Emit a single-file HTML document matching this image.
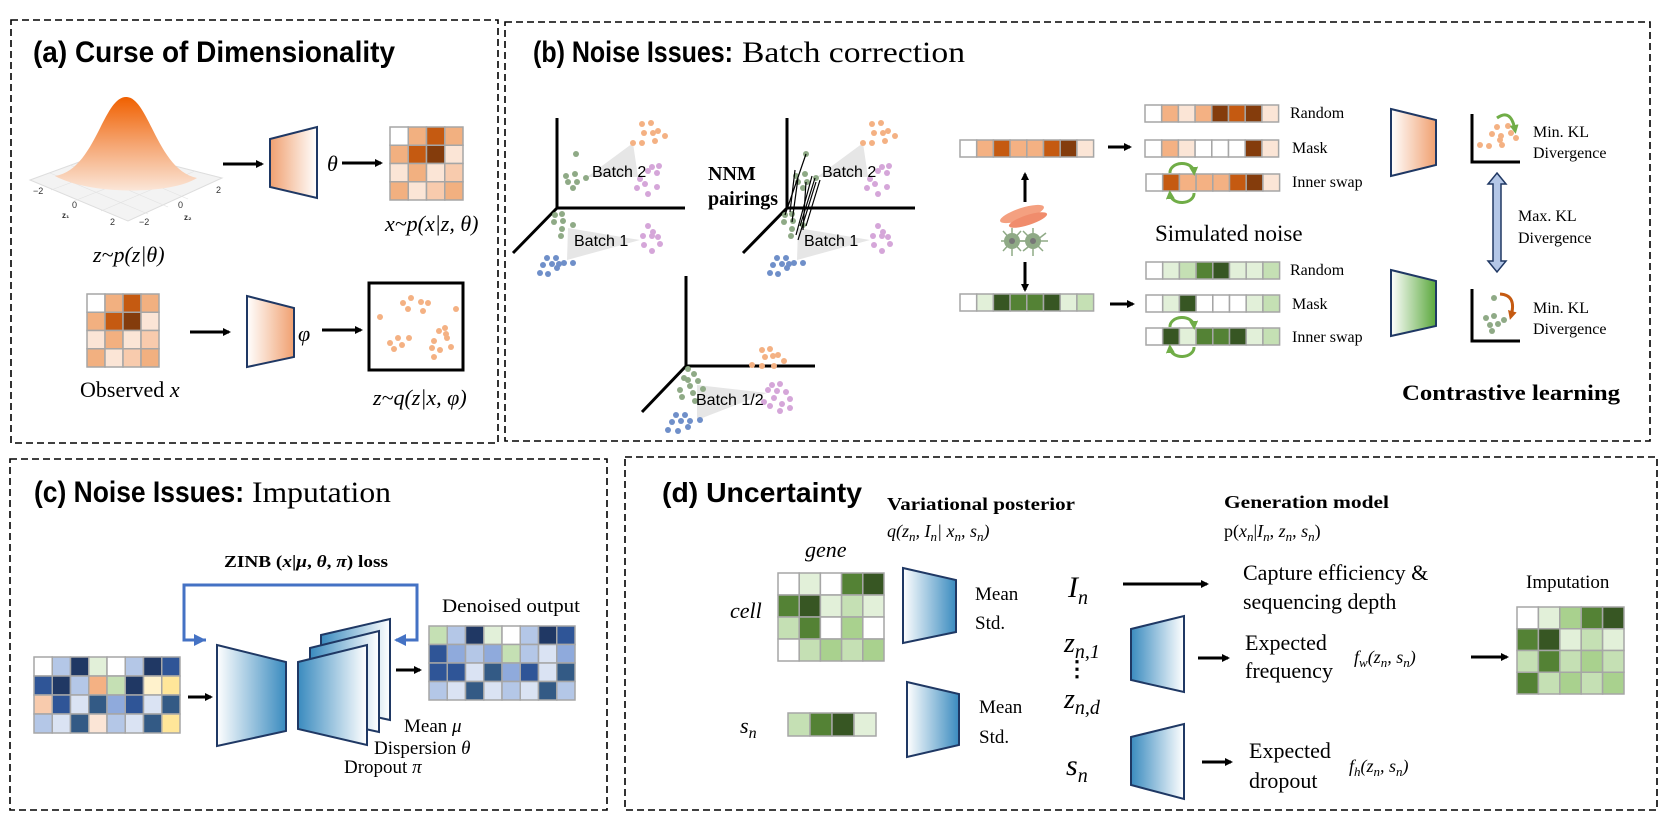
<!DOCTYPE html>
<html><head><meta charset="utf-8"><style>
html,body{margin:0;padding:0;background:#fff;}
svg{display:block;}
.sans{font-family:"Liberation Sans",sans-serif;}
.serif{font-family:"Liberation Serif",serif;}
.it{font-family:"Liberation Serif",serif;font-style:italic;}
.c{stroke:#a6a6a6;stroke-width:1.5;}
.dash{fill:none;stroke:#000;stroke-width:1.6;stroke-dasharray:7 4;}
</style></head><body>
<svg width="1661" height="830" viewBox="0 0 1661 830" xmlns="http://www.w3.org/2000/svg">
<defs>
<linearGradient id="gOr" x1="0" x2="1" y1="0" y2="0"><stop offset="0" stop-color="#f0a070"/><stop offset="1" stop-color="#fff"/></linearGradient>
<linearGradient id="gOrR" x1="0" x2="1" y1="0" y2="0"><stop offset="0" stop-color="#fff"/><stop offset="1" stop-color="#f0a070"/></linearGradient>
<linearGradient id="gGr" x1="0" x2="1" y1="0" y2="0"><stop offset="0" stop-color="#fff"/><stop offset="1" stop-color="#5aa83c"/></linearGradient>
<linearGradient id="gBl" x1="0" x2="1" y1="0" y2="0"><stop offset="0" stop-color="#fff"/><stop offset="1" stop-color="#3a8bbf"/></linearGradient>
<linearGradient id="gBlR" x1="0" x2="1" y1="0" y2="0"><stop offset="0" stop-color="#3a8bbf"/><stop offset="1" stop-color="#fff"/></linearGradient>
<linearGradient id="gBell" x1="0" x2="0" y1="0" y2="1"><stop offset="0" stop-color="#f06000"/><stop offset="0.5" stop-color="#f5a470"/><stop offset="1" stop-color="#fbe6d8"/></linearGradient>
<marker id="ah" markerWidth="8" markerHeight="8" refX="6" refY="4" orient="auto" markerUnits="userSpaceOnUse"><path d="M0,0 L8,4 L0,8 Z" fill="#000"/></marker>
<marker id="ahb" markerWidth="12" markerHeight="12" refX="9" refY="6" orient="auto" markerUnits="userSpaceOnUse"><path d="M0,0 L12,6 L0,12 Z" fill="#4472c4"/></marker>
<marker id="ahg" markerWidth="9" markerHeight="9" refX="5" refY="4.5" orient="auto" markerUnits="userSpaceOnUse"><path d="M0,0 L9,4.5 L0,9 Z" fill="#70ad47"/></marker>
<marker id="aho" markerWidth="9" markerHeight="9" refX="5" refY="4.5" orient="auto" markerUnits="userSpaceOnUse"><path d="M0,0 L9,4.5 L0,9 Z" fill="#c55a11"/></marker>
</defs>

<!-- Borders -->
<rect class="dash" x="11" y="20" width="487" height="423"/>
<rect class="dash" x="505" y="22" width="1145" height="419"/>
<rect class="dash" x="10" y="459" width="597" height="351"/>
<rect class="dash" x="625" y="457" width="1032" height="353"/>

<!-- ===== Panel (a) ===== -->
<text x="33" y="62" class="sans" font-weight="bold" font-size="30" textLength="362" lengthAdjust="spacingAndGlyphs">(a) Curse of Dimensionality</text>
<!-- gaussian -->
<polygon points="30,180 112,150 222,178 128,221" fill="#f3f3f3" stroke="#ddd" stroke-width="1"/>
<g stroke="#e2e2e2" stroke-width="0.6">
<line x1="50" y1="173" x2="148" y2="214"/><line x1="70" y1="165" x2="168" y2="207"/><line x1="91" y1="158" x2="188" y2="199"/><line x1="168" y1="164" x2="74" y2="201"/><line x1="140" y1="157" x2="51" y2="190"/><line x1="195" y1="171" x2="101" y2="211"/>
</g>
<path d="M55,176 C95,170 103,97 126,97 C149,97 157,170 197,178 C170,195 90,195 55,176 Z" fill="url(#gBell)"/>
<g class="sans" font-size="9" fill="#333">
<text x="33" y="194">−2</text><text x="72" y="208">0</text><text x="62" y="218" font-weight="bold" font-size="8">z₁</text><text x="110" y="225">2</text><text x="139" y="225">−2</text><text x="178" y="208">0</text><text x="184" y="220" font-weight="bold" font-size="8">z₂</text><text x="216" y="193">2</text>
</g>
<text x="93" y="262" class="it" font-size="22">z~p(z|θ)</text>
<line x1="223" y1="164" x2="262" y2="164" stroke="#000" stroke-width="3" marker-end="url(#ah)"/>
<polygon points="270,139 317,127 317,198 270,187" fill="url(#gOr)" stroke="#1f3864" stroke-width="2"/>
<text x="327" y="171" class="it" font-size="22">θ</text>
<line x1="342" y1="163" x2="381" y2="163" stroke="#000" stroke-width="3" marker-end="url(#ah)"/>
<g class="c">
<rect x="390" y="127" width="18.25" height="18.25" fill="#fff"/><rect x="408.25" y="127" width="18.25" height="18.25" fill="#f2b080"/><rect x="426.5" y="127" width="18.25" height="18.25" fill="#c55a11"/><rect x="444.75" y="127" width="18.25" height="18.25" fill="#f2b080"/>
<rect x="390" y="145.25" width="18.25" height="18.25" fill="#f2b080"/><rect x="408.25" y="145.25" width="18.25" height="18.25" fill="#c55a11"/><rect x="426.5" y="145.25" width="18.25" height="18.25" fill="#843c0c"/><rect x="444.75" y="145.25" width="18.25" height="18.25" fill="#fbe5d6"/>
<rect x="390" y="163.5" width="18.25" height="18.25" fill="#fbe5d6"/><rect x="408.25" y="163.5" width="18.25" height="18.25" fill="#f2b080"/><rect x="426.5" y="163.5" width="18.25" height="18.25" fill="#fbe5d6"/><rect x="444.75" y="163.5" width="18.25" height="18.25" fill="#f8cbad"/>
<rect x="390" y="181.75" width="18.25" height="18.25" fill="#f2b080"/><rect x="408.25" y="181.75" width="18.25" height="18.25" fill="#fbe5d6"/><rect x="426.5" y="181.75" width="18.25" height="18.25" fill="#f8cbad"/><rect x="444.75" y="181.75" width="18.25" height="18.25" fill="#f2b080"/>
</g>
<text x="385" y="231" class="it" font-size="22">x~p(x|z, θ)</text>

<g class="c">
<rect x="87" y="294" width="18" height="18.25" fill="#fff"/><rect x="105" y="294" width="18" height="18.25" fill="#f2b080"/><rect x="123" y="294" width="18" height="18.25" fill="#c55a11"/><rect x="141" y="294" width="18" height="18.25" fill="#f2b080"/>
<rect x="87" y="312.25" width="18" height="18.25" fill="#f2b080"/><rect x="105" y="312.25" width="18" height="18.25" fill="#c55a11"/><rect x="123" y="312.25" width="18" height="18.25" fill="#843c0c"/><rect x="141" y="312.25" width="18" height="18.25" fill="#fbe5d6"/>
<rect x="87" y="330.5" width="18" height="18.25" fill="#fbe5d6"/><rect x="105" y="330.5" width="18" height="18.25" fill="#f2b080"/><rect x="123" y="330.5" width="18" height="18.25" fill="#fbe5d6"/><rect x="141" y="330.5" width="18" height="18.25" fill="#f8cbad"/>
<rect x="87" y="348.75" width="18" height="18.25" fill="#f2b080"/><rect x="105" y="348.75" width="18" height="18.25" fill="#fbe5d6"/><rect x="123" y="348.75" width="18" height="18.25" fill="#f8cbad"/><rect x="141" y="348.75" width="18" height="18.25" fill="#f2b080"/>
</g>
<line x1="190" y1="332" x2="229" y2="332" stroke="#000" stroke-width="3" marker-end="url(#ah)"/>
<polygon points="247,296 294,308 294,357 247,367" fill="url(#gOrR)" stroke="#1f3864" stroke-width="2"/>
<text x="298" y="341" class="it" font-size="22">φ</text>
<line x1="322" y1="330" x2="361" y2="330" stroke="#000" stroke-width="3" marker-end="url(#ah)"/>
<rect x="369" y="283" width="94" height="87" fill="#fff" stroke="#000" stroke-width="3"/>
<g fill="#f4b183">
<circle cx="403" cy="303" r="3"/><circle cx="411" cy="298" r="3"/><circle cx="408" cy="309" r="3"/><circle cx="421" cy="302" r="3"/><circle cx="428" cy="303" r="3"/><circle cx="423" cy="311" r="3"/><circle cx="380" cy="317" r="3"/><circle cx="456" cy="309" r="3"/><circle cx="445" cy="328" r="3"/><circle cx="439" cy="331" r="3"/><circle cx="446" cy="334" r="3"/><circle cx="447" cy="338" r="3"/><circle cx="434" cy="341" r="3"/><circle cx="451" cy="347" r="3"/><circle cx="432" cy="348" r="3"/><circle cx="440" cy="350" r="3"/><circle cx="434" cy="357" r="3"/><circle cx="390" cy="343" r="3"/><circle cx="398" cy="338" r="3"/><circle cx="409" cy="338" r="3"/><circle cx="394" cy="349" r="3"/><circle cx="402" cy="345" r="3"/>
</g>
<text x="80" y="397" class="serif" font-size="22">Observed <tspan class="it">x</tspan></text>
<text x="373" y="405" class="it" font-size="22">z~q(z|x, φ)</text>

<!-- ===== Panel (b) ===== -->
<text x="533" y="62" class="sans" font-weight="bold" font-size="30" textLength="200" lengthAdjust="spacingAndGlyphs">(b) Noise Issues:</text>
<text x="742" y="62" class="serif" font-size="30" textLength="223" lengthAdjust="spacingAndGlyphs">Batch correction</text>

<!-- plot 1 -->
<g id="p1">
<polygon points="587,177 633,143 638,177" fill="#e6e6e6"/>
<polygon points="568,228 640,240 567,260" fill="#e6e6e6"/>
<g stroke="#000" stroke-width="3"><line x1="557" y1="118" x2="557" y2="208"/><line x1="557" y1="208" x2="685" y2="208"/><line x1="557" y1="208" x2="513" y2="253"/></g>
<g fill="#f4b183"><circle cx="642" cy="124" r="3"/><circle cx="651" cy="123" r="3"/><circle cx="644" cy="133" r="3"/><circle cx="653" cy="133" r="3"/><circle cx="658" cy="131" r="3"/><circle cx="665" cy="136" r="3"/><circle cx="655" cy="141" r="3"/><circle cx="633" cy="143" r="3"/><circle cx="642" cy="143" r="3"/></g>
<g fill="#d5a6d9"><circle cx="652" cy="167" r="3"/><circle cx="659" cy="166" r="3"/><circle cx="648" cy="171" r="3"/><circle cx="657" cy="173" r="3"/><circle cx="640" cy="179" r="3"/><circle cx="637" cy="188" r="3"/><circle cx="645" cy="184" r="3"/><circle cx="657" cy="187" r="3"/><circle cx="648" cy="194" r="3"/>
<circle cx="648" cy="226" r="3"/><circle cx="653" cy="232" r="3"/><circle cx="643" cy="236" r="3"/><circle cx="652" cy="236" r="3"/><circle cx="658" cy="237" r="3"/><circle cx="660" cy="244" r="3"/><circle cx="644" cy="245" r="3"/><circle cx="652" cy="251" r="3"/></g>
<g fill="#8faa86"><circle cx="576" cy="154" r="3"/><circle cx="566" cy="176" r="3"/><circle cx="575" cy="174" r="3"/><circle cx="568" cy="182" r="3"/><circle cx="577" cy="182" r="3"/><circle cx="586" cy="178" r="3"/><circle cx="573" cy="188" r="3"/>
<circle cx="555" cy="215" r="3"/><circle cx="562" cy="214" r="3"/><circle cx="554" cy="222" r="3"/><circle cx="563" cy="221" r="3"/><circle cx="573" cy="225" r="3"/><circle cx="562" cy="229" r="3"/><circle cx="561" cy="236" r="3"/></g>
<g fill="#6f8fc9"><circle cx="547" cy="258" r="3"/><circle cx="556" cy="258" r="3"/><circle cx="543" cy="265" r="3"/><circle cx="552" cy="264" r="3"/><circle cx="559" cy="264" r="3"/><circle cx="564" cy="263" r="3"/><circle cx="573" cy="263" r="3"/><circle cx="540" cy="273" r="3"/><circle cx="548" cy="274" r="3"/><circle cx="557" cy="268" r="3"/></g>
</g>
<text x="592" y="177" class="sans" font-size="16">Batch 2</text>
<text x="574" y="246" class="sans" font-size="16">Batch 1</text>
<!-- plot 2 -->
<use href="#p1" transform="translate(230,0)"/>
<rect x="916" y="200" width="6" height="16" fill="#fff"/>
<text x="822" y="177" class="sans" font-size="16">Batch 2</text>
<text x="804" y="246" class="sans" font-size="16">Batch 1</text>
<g stroke="#000" stroke-width="1.2">
<line x1="785" y1="215" x2="806" y2="154"/><line x1="792" y1="222" x2="798" y2="178"/><line x1="796" y1="235" x2="812" y2="176"/><line x1="800" y1="226" x2="815" y2="178"/><line x1="803" y1="230" x2="806" y2="182"/><line x1="790" y1="212" x2="795" y2="170"/><line x1="798" y1="240" x2="816" y2="182"/><line x1="806" y1="226" x2="820" y2="180"/>
</g>
<text x="708" y="180" class="serif" font-weight="bold" font-size="20">NNM</text>
<text x="708" y="205" class="serif" font-weight="bold" font-size="20">pairings</text>
<!-- plot 3 -->
<polygon points="697,385 767,393 697,420" fill="#e6e6e6"/>
<g stroke="#000" stroke-width="3"><line x1="686" y1="276" x2="686" y2="366"/><line x1="686" y1="366" x2="815" y2="366"/><line x1="686" y1="366" x2="642" y2="412"/></g>
<g fill="#f4b183"><circle cx="762" cy="350" r="3"/><circle cx="770" cy="349" r="3"/><circle cx="765" cy="357" r="3"/><circle cx="773" cy="356" r="3"/><circle cx="778" cy="355" r="3"/><circle cx="784" cy="361" r="3"/><circle cx="774" cy="366" r="3"/><circle cx="752" cy="365" r="3"/><circle cx="762" cy="366" r="3"/></g>
<g fill="#d5a6d9"><circle cx="772" cy="385" r="3"/><circle cx="780" cy="384" r="3"/><circle cx="768" cy="390" r="3"/><circle cx="777" cy="391" r="3"/><circle cx="786" cy="392" r="3"/><circle cx="790" cy="399" r="3"/><circle cx="774" cy="398" r="3"/><circle cx="782" cy="404" r="3"/><circle cx="770" cy="406" r="3"/><circle cx="780" cy="411" r="3"/><circle cx="790" cy="408" r="3"/><circle cx="764" cy="402" r="3"/></g>
<g fill="#8faa86"><circle cx="688" cy="369" r="3"/><circle cx="694" cy="374" r="3"/><circle cx="684" cy="378" r="3"/><circle cx="698" cy="381" r="3"/><circle cx="690" cy="386" r="3"/><circle cx="703" cy="389" r="3"/><circle cx="680" cy="390" r="3"/><circle cx="693" cy="393" r="3"/><circle cx="682" cy="397" r="3"/><circle cx="695" cy="401" r="3"/><circle cx="688" cy="380" r="3"/></g>
<g fill="#6f8fc9"><circle cx="676" cy="415" r="3"/><circle cx="685" cy="415" r="3"/><circle cx="672" cy="422" r="3"/><circle cx="681" cy="421" r="3"/><circle cx="690" cy="421" r="3"/><circle cx="700" cy="420" r="3"/><circle cx="668" cy="430" r="3"/><circle cx="678" cy="431" r="3"/><circle cx="688" cy="427" r="3"/></g>
<text x="696" y="405" class="sans" font-size="16">Batch 1/2</text>

<!-- base bars -->
<g class="c">
<rect x="960" y="140" width="16.7" height="17" fill="#fff"/><rect x="976.7" y="140" width="16.7" height="17" fill="#f4b183"/><rect x="993.4" y="140" width="16.7" height="17" fill="#c55a11"/><rect x="1010.1" y="140" width="16.7" height="17" fill="#f4b183"/><rect x="1026.8" y="140" width="16.7" height="17" fill="#f4b183"/><rect x="1043.5" y="140" width="16.7" height="17" fill="#c55a11"/><rect x="1060.2" y="140" width="16.7" height="17" fill="#843c0c"/><rect x="1076.9" y="140" width="16.7" height="17" fill="#fbe5d6"/>
<rect x="960" y="294" width="16.7" height="17" fill="#fff"/><rect x="976.7" y="294" width="16.7" height="17" fill="#e2f0d9"/><rect x="993.4" y="294" width="16.7" height="17" fill="#375623"/><rect x="1010.1" y="294" width="16.7" height="17" fill="#548235"/><rect x="1026.8" y="294" width="16.7" height="17" fill="#548235"/><rect x="1043.5" y="294" width="16.7" height="17" fill="#375623"/><rect x="1060.2" y="294" width="16.7" height="17" fill="#e2f0d9"/><rect x="1076.9" y="294" width="16.7" height="17" fill="#c5e0b4"/>
</g>
<line x1="1025" y1="202" x2="1025" y2="174" stroke="#000" stroke-width="3" marker-end="url(#ah)"/>
<line x1="1025" y1="262" x2="1025" y2="290" stroke="#000" stroke-width="3" marker-end="url(#ah)"/>
<!-- cells icon -->
<g>
<ellipse cx="1022" cy="214" rx="23" ry="6" fill="#f4a080" transform="rotate(-18 1022 214)"/>
<ellipse cx="1028" cy="220" rx="20" ry="5" fill="#f08c6c" transform="rotate(-18 1028 220)"/>
<g stroke="#8faa86" stroke-width="1.5">
<line x1="1001" y1="241" x2="1035" y2="241"/><line x1="1012" y1="228" x2="1012" y2="256"/><line x1="1003" y1="231" x2="1021" y2="251"/><line x1="1003" y1="251" x2="1021" y2="231"/>
<line x1="1019" y1="241" x2="1048" y2="241"/><line x1="1033" y1="228" x2="1033" y2="256"/><line x1="1023" y1="231" x2="1043" y2="251"/><line x1="1023" y1="251" x2="1046" y2="233"/>
</g>
<circle cx="1012" cy="241" r="8" fill="#8faa86"/><circle cx="1033" cy="241" r="8" fill="#8faa86"/>
<circle cx="1012" cy="241" r="3" fill="#777"/><circle cx="1033" cy="241" r="3" fill="#777"/>
</g>
<line x1="1108" y1="147" x2="1130" y2="147" stroke="#000" stroke-width="3" marker-end="url(#ah)"/>
<line x1="1110" y1="304" x2="1133" y2="304" stroke="#000" stroke-width="3" marker-end="url(#ah)"/>
<!-- noisy orange bars -->
<g class="c">
<rect x="1145" y="105" width="16.7" height="17" fill="#fff"/><rect x="1161.7" y="105" width="16.7" height="17" fill="#f4b183"/><rect x="1178.4" y="105" width="16.7" height="17" fill="#fbe5d6"/><rect x="1195.1" y="105" width="16.7" height="17" fill="#f4b183"/><rect x="1211.8" y="105" width="16.7" height="17" fill="#843c0c"/><rect x="1228.5" y="105" width="16.7" height="17" fill="#c55a11"/><rect x="1245.2" y="105" width="16.7" height="17" fill="#843c0c"/><rect x="1261.9" y="105" width="16.7" height="17" fill="#fbe5d6"/>
<rect x="1145" y="140" width="16.7" height="17" fill="#fff"/><rect x="1161.7" y="140" width="16.7" height="17" fill="#f4b183"/><rect x="1178.4" y="140" width="16.7" height="17" fill="#fbe5d6"/><rect x="1195.1" y="140" width="16.7" height="17" fill="#fff"/><rect x="1211.8" y="140" width="16.7" height="17" fill="#fff"/><rect x="1228.5" y="140" width="16.7" height="17" fill="#fff"/><rect x="1245.2" y="140" width="16.7" height="17" fill="#843c0c"/><rect x="1261.9" y="140" width="16.7" height="17" fill="#fbe5d6"/>
<rect x="1146" y="174" width="16.7" height="17" fill="#fff"/><rect x="1162.7" y="174" width="16.7" height="17" fill="#c55a11"/><rect x="1179.4" y="174" width="16.7" height="17" fill="#f4b183"/><rect x="1196.1" y="174" width="16.7" height="17" fill="#f4b183"/><rect x="1212.8" y="174" width="16.7" height="17" fill="#f4b183"/><rect x="1229.5" y="174" width="16.7" height="17" fill="#c55a11"/><rect x="1246.2" y="174" width="16.7" height="17" fill="#843c0c"/><rect x="1262.9" y="174" width="16.7" height="17" fill="#fbe5d6"/>
<!-- green -->
<rect x="1146" y="262" width="16.7" height="17" fill="#fff"/><rect x="1162.7" y="262" width="16.7" height="17" fill="#e2f0d9"/><rect x="1179.4" y="262" width="16.7" height="17" fill="#c5e0b4"/><rect x="1196.1" y="262" width="16.7" height="17" fill="#548235"/><rect x="1212.8" y="262" width="16.7" height="17" fill="#375623"/><rect x="1229.5" y="262" width="16.7" height="17" fill="#e2f0d9"/><rect x="1246.2" y="262" width="16.7" height="17" fill="#e2f0d9"/><rect x="1262.9" y="262" width="16.7" height="17" fill="#c5e0b4"/>
<rect x="1146" y="295" width="16.7" height="17" fill="#fff"/><rect x="1162.7" y="295" width="16.7" height="17" fill="#e2f0d9"/><rect x="1179.4" y="295" width="16.7" height="17" fill="#375623"/><rect x="1196.1" y="295" width="16.7" height="17" fill="#fff"/><rect x="1212.8" y="295" width="16.7" height="17" fill="#fff"/><rect x="1229.5" y="295" width="16.7" height="17" fill="#fff"/><rect x="1246.2" y="295" width="16.7" height="17" fill="#e2f0d9"/><rect x="1262.9" y="295" width="16.7" height="17" fill="#c5e0b4"/>
<rect x="1146" y="328" width="16.7" height="17" fill="#fff"/><rect x="1162.7" y="328" width="16.7" height="17" fill="#375623"/><rect x="1179.4" y="328" width="16.7" height="17" fill="#e2f0d9"/><rect x="1196.1" y="328" width="16.7" height="17" fill="#548235"/><rect x="1212.8" y="328" width="16.7" height="17" fill="#548235"/><rect x="1229.5" y="328" width="16.7" height="17" fill="#375623"/><rect x="1246.2" y="328" width="16.7" height="17" fill="#e2f0d9"/><rect x="1262.9" y="328" width="16.7" height="17" fill="#c5e0b4"/>
</g>
<!-- swap arcs -->
<g fill="none" stroke="#70ad47" stroke-width="3">
<path d="M1170,173 A12,9 0 0 1 1194,172" marker-end="url(#ahg)"/>
<path d="M1194,193 A12,9 0 0 1 1170,194" marker-end="url(#ahg)"/>
<path d="M1170,327 A12,9 0 0 1 1194,326" marker-end="url(#ahg)"/>
<path d="M1194,347 A12,9 0 0 1 1170,348" marker-end="url(#ahg)"/>
</g>
<g class="serif" font-size="16">
<text x="1290" y="118">Random</text><text x="1292" y="153">Mask</text><text x="1292" y="187">Inner swap</text>
<text x="1290" y="275">Random</text><text x="1292" y="309">Mask</text><text x="1292" y="342">Inner swap</text>
</g>
<text x="1155" y="241" class="serif" font-size="23">Simulated noise</text>
<!-- encoders -->
<polygon points="1391,109 1436,120 1436,165 1391,176" fill="url(#gOrR)" stroke="#1f3864" stroke-width="2"/>
<polygon points="1391,270 1436,281 1436,326 1391,336" fill="url(#gGr)" stroke="#1f3864" stroke-width="2"/>
<!-- KL plots -->
<path d="M1472,114 L1472,162 L1520,162" fill="none" stroke="#000" stroke-width="3"/>
<g fill="#f4b183"><circle cx="1497" cy="127" r="3"/><circle cx="1508" cy="126" r="3"/><circle cx="1492" cy="134" r="3"/><circle cx="1501" cy="136" r="3"/><circle cx="1511" cy="133" r="3"/><circle cx="1516" cy="138" r="3"/><circle cx="1502" cy="145" r="3"/><circle cx="1480" cy="145" r="3"/><circle cx="1489" cy="146" r="3"/><circle cx="1500" cy="140" r="3"/></g>
<path d="M1497,118 Q1511,108 1515,130" fill="none" stroke="#70ad47" stroke-width="3" marker-end="url(#ahg)"/>
<path d="M1472,289 L1472,341 L1520,341" fill="none" stroke="#000" stroke-width="3"/>
<g fill="#8faa86"><circle cx="1494" cy="298" r="3"/><circle cx="1486" cy="318" r="3"/><circle cx="1494" cy="316" r="3"/><circle cx="1504" cy="320" r="3"/><circle cx="1490" cy="325" r="3"/><circle cx="1498" cy="324" r="3"/><circle cx="1492" cy="331" r="3"/></g>
<path d="M1500,294 Q1517,295 1511,316" fill="none" stroke="#c55a11" stroke-width="3" marker-end="url(#aho)"/>
<g class="serif" font-size="16">
<text x="1533" y="137">Min. KL</text><text x="1533" y="158">Divergence</text>
<text x="1518" y="221">Max. KL</text><text x="1518" y="243">Divergence</text>
<text x="1533" y="313">Min. KL</text><text x="1533" y="334">Divergence</text>
</g>
<polygon points="1497,173 1506,184 1501,184 1501,261 1506,261 1497,272 1488,261 1493,261 1493,184 1488,184" fill="#b4c7e7" stroke="#203864" stroke-width="1.5"/>
<text x="1402" y="400" class="serif" font-weight="bold" font-size="22" textLength="218" lengthAdjust="spacingAndGlyphs">Contrastive learning</text>

<!-- ===== Panel (c) ===== -->
<text x="34" y="502" class="sans" font-weight="bold" font-size="30" textLength="210" lengthAdjust="spacingAndGlyphs">(c) Noise Issues:</text>
<text x="252" y="502" class="serif" font-size="30" textLength="139" lengthAdjust="spacingAndGlyphs">Imputation</text>
<text x="224" y="567" class="serif" font-weight="bold" font-size="17" textLength="164" lengthAdjust="spacingAndGlyphs">ZINB (<tspan font-style="italic">x</tspan>|<tspan font-style="italic">μ</tspan>, <tspan font-style="italic">θ</tspan>, <tspan font-style="italic">π</tspan>) loss</text>
<path d="M206,640 L184,640 L184,585 L417,585 L417,640 L396,640" fill="none" stroke="#4472c4" stroke-width="3"/>
<line x1="184" y1="640" x2="203" y2="640" stroke="#4472c4" stroke-width="3" marker-end="url(#ahb)"/>
<line x1="417" y1="640" x2="397" y2="640" stroke="#4472c4" stroke-width="3" marker-end="url(#ahb)"/>
<g class="c">
<rect x="34" y="657" width="18.25" height="19" fill="#fff"/><rect x="52.25" y="657" width="18.25" height="19" fill="#b4c7e7"/><rect x="70.5" y="657" width="18.25" height="19" fill="#203864"/><rect x="88.75" y="657" width="18.25" height="19" fill="#e2f0d9"/><rect x="107" y="657" width="18.25" height="19" fill="#fff"/><rect x="125.25" y="657" width="18.25" height="19" fill="#b4c7e7"/><rect x="143.5" y="657" width="18.25" height="19" fill="#203864"/><rect x="161.75" y="657" width="18.25" height="19" fill="#2f5597"/>
<rect x="34" y="676" width="18.25" height="19" fill="#2f5597"/><rect x="52.25" y="676" width="18.25" height="19" fill="#203864"/><rect x="70.5" y="676" width="18.25" height="19" fill="#b4c7e7"/><rect x="88.75" y="676" width="18.25" height="19" fill="#f4b183"/><rect x="107" y="676" width="18.25" height="19" fill="#c5e0b4"/><rect x="125.25" y="676" width="18.25" height="19" fill="#203864"/><rect x="143.5" y="676" width="18.25" height="19" fill="#fff2cc"/><rect x="161.75" y="676" width="18.25" height="19" fill="#ffe699"/>
<rect x="34" y="695" width="18.25" height="19" fill="#f8cbad"/><rect x="52.25" y="695" width="18.25" height="19" fill="#2f5597"/><rect x="70.5" y="695" width="18.25" height="19" fill="#dae3f3"/><rect x="88.75" y="695" width="18.25" height="19" fill="#335a85"/><rect x="107" y="695" width="18.25" height="19" fill="#8faadc"/><rect x="125.25" y="695" width="18.25" height="19" fill="#2f5597"/><rect x="143.5" y="695" width="18.25" height="19" fill="#dae3f3"/><rect x="161.75" y="695" width="18.25" height="19" fill="#335a85"/>
<rect x="34" y="714" width="18.25" height="19" fill="#b4c7e7"/><rect x="52.25" y="714" width="18.25" height="19" fill="#dae3f3"/><rect x="70.5" y="714" width="18.25" height="19" fill="#335a85"/><rect x="88.75" y="714" width="18.25" height="19" fill="#fbe5d6"/><rect x="107" y="714" width="18.25" height="19" fill="#b4c7e7"/><rect x="125.25" y="714" width="18.25" height="19" fill="#dae3f3"/><rect x="143.5" y="714" width="18.25" height="19" fill="#335a85"/><rect x="161.75" y="714" width="18.25" height="19" fill="#ffe699"/>
</g>
<line x1="188" y1="697" x2="211" y2="697" stroke="#000" stroke-width="3" marker-end="url(#ah)"/>
<polygon points="217,645 286,662 286,731 217,746" fill="url(#gBl)" stroke="#1f3864" stroke-width="2"/>
<polygon points="321,635 390,619 390,720 321,705" fill="url(#gBlR)" stroke="#1f3864" stroke-width="2"/>
<polygon points="310,648 379,631 379,732 310,717" fill="url(#gBlR)" stroke="#1f3864" stroke-width="2"/>
<polygon points="298,662 367,645 367,745 298,729" fill="url(#gBlR)" stroke="#1f3864" stroke-width="2"/>
<line x1="396" y1="670" x2="420" y2="670" stroke="#000" stroke-width="3" marker-end="url(#ah)"/>
<text x="442" y="612" class="serif" font-size="19" textLength="138" lengthAdjust="spacingAndGlyphs">Denoised output</text>
<g class="c">
<rect x="429" y="626" width="18.25" height="18.5" fill="#c5e0b4"/><rect x="447.25" y="626" width="18.25" height="18.5" fill="#b4c7e7"/><rect x="465.5" y="626" width="18.25" height="18.5" fill="#203864"/><rect x="483.75" y="626" width="18.25" height="18.5" fill="#e2f0d9"/><rect x="502" y="626" width="18.25" height="18.5" fill="#fff"/><rect x="520.25" y="626" width="18.25" height="18.5" fill="#b4c7e7"/><rect x="538.5" y="626" width="18.25" height="18.5" fill="#203864"/><rect x="556.75" y="626" width="18.25" height="18.5" fill="#2f5597"/>
<rect x="429" y="644.5" width="18.25" height="18.5" fill="#2f5597"/><rect x="447.25" y="644.5" width="18.25" height="18.5" fill="#8faadc"/><rect x="465.5" y="644.5" width="18.25" height="18.5" fill="#b4c7e7"/><rect x="483.75" y="644.5" width="18.25" height="18.5" fill="#8faadc"/><rect x="502" y="644.5" width="18.25" height="18.5" fill="#c5e0b4"/><rect x="520.25" y="644.5" width="18.25" height="18.5" fill="#b4c7e7"/><rect x="538.5" y="644.5" width="18.25" height="18.5" fill="#dae3f3"/><rect x="556.75" y="644.5" width="18.25" height="18.5" fill="#8faadc"/>
<rect x="429" y="663" width="18.25" height="18.5" fill="#2f5597"/><rect x="447.25" y="663" width="18.25" height="18.5" fill="#2f5597"/><rect x="465.5" y="663" width="18.25" height="18.5" fill="#dae3f3"/><rect x="483.75" y="663" width="18.25" height="18.5" fill="#335a85"/><rect x="502" y="663" width="18.25" height="18.5" fill="#8faadc"/><rect x="520.25" y="663" width="18.25" height="18.5" fill="#2f5597"/><rect x="538.5" y="663" width="18.25" height="18.5" fill="#dae3f3"/><rect x="556.75" y="663" width="18.25" height="18.5" fill="#335a85"/>
<rect x="429" y="681.5" width="18.25" height="18.5" fill="#b4c7e7"/><rect x="447.25" y="681.5" width="18.25" height="18.5" fill="#dae3f3"/><rect x="465.5" y="681.5" width="18.25" height="18.5" fill="#335a85"/><rect x="483.75" y="681.5" width="18.25" height="18.5" fill="#dae3f3"/><rect x="502" y="681.5" width="18.25" height="18.5" fill="#b4c7e7"/><rect x="520.25" y="681.5" width="18.25" height="18.5" fill="#dae3f3"/><rect x="538.5" y="681.5" width="18.25" height="18.5" fill="#335a85"/><rect x="556.75" y="681.5" width="18.25" height="18.5" fill="#b4c7e7"/>
</g>
<g class="serif" font-size="19">
<text x="404" y="732">Mean <tspan font-style="italic">μ</tspan></text>
<text x="374" y="754">Dispersion <tspan font-style="italic">θ</tspan></text>
<text x="344" y="773">Dropout <tspan font-style="italic">π</tspan></text>
</g>

<!-- ===== Panel (d) ===== -->
<text x="662" y="502" class="sans" font-weight="bold" font-size="28" textLength="200" lengthAdjust="spacingAndGlyphs">(d) Uncertainty</text>
<text x="887" y="510" class="serif" font-weight="bold" font-size="18" textLength="188" lengthAdjust="spacingAndGlyphs">Variational posterior</text>
<text x="887" y="537" class="it" font-size="18">q(z<tspan font-size="13" dy="4">n</tspan><tspan dy="-4">, I</tspan><tspan font-size="13" dy="4">n</tspan><tspan dy="-4">| x</tspan><tspan font-size="13" dy="4">n</tspan><tspan dy="-4">, s</tspan><tspan font-size="13" dy="4">n</tspan><tspan dy="-4">)</tspan></text>
<text x="1224" y="508" class="serif" font-weight="bold" font-size="18" textLength="165" lengthAdjust="spacingAndGlyphs">Generation model</text>
<text x="1224" y="537" class="serif" font-size="18">p(<tspan font-style="italic">x</tspan><tspan font-size="13" dy="4" font-style="italic">n</tspan><tspan dy="-4">|</tspan><tspan font-style="italic">I</tspan><tspan font-size="13" dy="4" font-style="italic">n</tspan><tspan dy="-4">, </tspan><tspan font-style="italic">z</tspan><tspan font-size="13" dy="4" font-style="italic">n</tspan><tspan dy="-4">, </tspan><tspan font-style="italic">s</tspan><tspan font-size="13" dy="4" font-style="italic">n</tspan><tspan dy="-4">)</tspan></text>
<text x="805" y="557" class="it" font-size="22">gene</text>
<text x="730" y="618" class="it" font-size="22">cell</text>
<g class="c">
<rect x="778" y="573" width="21.2" height="22" fill="#fff"/><rect x="799.2" y="573" width="21.2" height="22" fill="#e2f0d9"/><rect x="820.4" y="573" width="21.2" height="22" fill="#fff"/><rect x="841.6" y="573" width="21.2" height="22" fill="#548235"/><rect x="862.8" y="573" width="21.2" height="22" fill="#375623"/>
<rect x="778" y="595" width="21.2" height="22" fill="#548235"/><rect x="799.2" y="595" width="21.2" height="22" fill="#375623"/><rect x="820.4" y="595" width="21.2" height="22" fill="#e2f0d9"/><rect x="841.6" y="595" width="21.2" height="22" fill="#c5e0b4"/><rect x="862.8" y="595" width="21.2" height="22" fill="#e2f0d9"/>
<rect x="778" y="617" width="21.2" height="22" fill="#c5e0b4"/><rect x="799.2" y="617" width="21.2" height="22" fill="#548235"/><rect x="820.4" y="617" width="21.2" height="22" fill="#fff"/><rect x="841.6" y="617" width="21.2" height="22" fill="#a9d18e"/><rect x="862.8" y="617" width="21.2" height="22" fill="#fff"/>
<rect x="778" y="639" width="21.2" height="22" fill="#fff"/><rect x="799.2" y="639" width="21.2" height="22" fill="#c5e0b4"/><rect x="820.4" y="639" width="21.2" height="22" fill="#a9d18e"/><rect x="841.6" y="639" width="21.2" height="22" fill="#c5e0b4"/><rect x="862.8" y="639" width="21.2" height="22" fill="#a9d18e"/>
<rect x="788" y="713" width="22" height="23" fill="#c5e0b4"/><rect x="810" y="713" width="22" height="23" fill="#548235"/><rect x="832" y="713" width="22" height="23" fill="#375623"/><rect x="854" y="713" width="22" height="23" fill="#e2f0d9"/>
</g>
<text x="740" y="733" class="it" font-size="22">s<tspan font-size="16" dy="5">n</tspan></text>
<polygon points="903,568 956,580 956,632 903,643" fill="url(#gBl)" stroke="#1f3864" stroke-width="2"/>
<polygon points="907,682 959,694 959,745 907,757" fill="url(#gBl)" stroke="#1f3864" stroke-width="2"/>
<g class="serif" font-size="19">
<text x="975" y="600">Mean</text><text x="975" y="629">Std.</text>
<text x="979" y="713">Mean</text><text x="979" y="743">Std.</text>
</g>
<text x="1068" y="597" class="it" font-size="30">I<tspan font-size="20" dy="7">n</tspan></text>
<text x="1064" y="652" class="it" font-size="28">z<tspan font-size="20" dy="6">n,1</tspan></text>
<text x="1066" y="676" class="serif" font-size="22" font-weight="bold">⋮</text>
<text x="1064" y="708" class="it" font-size="28">z<tspan font-size="20" dy="6">n,d</tspan></text>
<text x="1066" y="775" class="it" font-size="30">s<tspan font-size="20" dy="7">n</tspan></text>
<line x1="1123" y1="584" x2="1207" y2="584" stroke="#000" stroke-width="3" marker-end="url(#ah)"/>
<text x="1243" y="580" class="serif" font-size="22">Capture efficiency &amp;</text>
<text x="1243" y="609" class="serif" font-size="22">sequencing depth</text>
<polygon points="1131,629 1184,616 1184,692 1131,680" fill="url(#gBlR)" stroke="#1f3864" stroke-width="2"/>
<polygon points="1131,737 1184,724 1184,799 1131,785" fill="url(#gBlR)" stroke="#1f3864" stroke-width="2"/>
<line x1="1198" y1="658" x2="1228" y2="658" stroke="#000" stroke-width="3" marker-end="url(#ah)"/>
<line x1="1202" y1="762" x2="1231" y2="762" stroke="#000" stroke-width="3" marker-end="url(#ah)"/>
<g class="serif" font-size="22">
<text x="1245" y="650">Expected</text><text x="1245" y="678">frequency</text>
<text x="1249" y="758">Expected</text><text x="1249" y="788">dropout</text>
</g>
<text x="1354" y="663" class="it" font-size="18">f<tspan font-size="13" dy="4">w</tspan><tspan dy="-4">(z</tspan><tspan font-size="13" dy="4">n</tspan><tspan dy="-4">, s</tspan><tspan font-size="13" dy="4">n</tspan><tspan dy="-4">)</tspan></text>
<text x="1349" y="772" class="it" font-size="18">f<tspan font-size="13" dy="4">h</tspan><tspan dy="-4">(z</tspan><tspan font-size="13" dy="4">n</tspan><tspan dy="-4">, s</tspan><tspan font-size="13" dy="4">n</tspan><tspan dy="-4">)</tspan></text>
<line x1="1471" y1="657" x2="1507" y2="657" stroke="#000" stroke-width="3" marker-end="url(#ah)"/>
<text x="1526" y="588" class="serif" font-size="19">Imputation</text>
<g class="c">
<rect x="1517" y="607" width="21.4" height="21.75" fill="#fff"/><rect x="1538.4" y="607" width="21.4" height="21.75" fill="#e2f0d9"/><rect x="1559.8" y="607" width="21.4" height="21.75" fill="#a9d18e"/><rect x="1581.2" y="607" width="21.4" height="21.75" fill="#548235"/><rect x="1602.6" y="607" width="21.4" height="21.75" fill="#375623"/>
<rect x="1517" y="628.75" width="21.4" height="21.75" fill="#548235"/><rect x="1538.4" y="628.75" width="21.4" height="21.75" fill="#375623"/><rect x="1559.8" y="628.75" width="21.4" height="21.75" fill="#e2f0d9"/><rect x="1581.2" y="628.75" width="21.4" height="21.75" fill="#c5e0b4"/><rect x="1602.6" y="628.75" width="21.4" height="21.75" fill="#e2f0d9"/>
<rect x="1517" y="650.5" width="21.4" height="21.75" fill="#c5e0b4"/><rect x="1538.4" y="650.5" width="21.4" height="21.75" fill="#548235"/><rect x="1559.8" y="650.5" width="21.4" height="21.75" fill="#c5e0b4"/><rect x="1581.2" y="650.5" width="21.4" height="21.75" fill="#a9d18e"/><rect x="1602.6" y="650.5" width="21.4" height="21.75" fill="#c5e0b4"/>
<rect x="1517" y="672.25" width="21.4" height="21.75" fill="#548235"/><rect x="1538.4" y="672.25" width="21.4" height="21.75" fill="#c5e0b4"/><rect x="1559.8" y="672.25" width="21.4" height="21.75" fill="#a9d18e"/><rect x="1581.2" y="672.25" width="21.4" height="21.75" fill="#c5e0b4"/><rect x="1602.6" y="672.25" width="21.4" height="21.75" fill="#a9d18e"/>
</g>
</svg>
</body></html>
